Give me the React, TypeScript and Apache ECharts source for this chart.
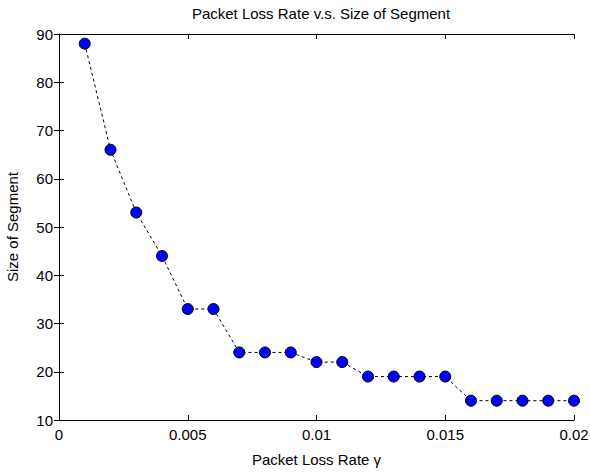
import React, { useEffect, useRef } from "react";
import * as echarts from "echarts";

const xValues = [0.001, 0.002, 0.003, 0.004, 0.005, 0.006, 0.007, 0.008, 0.009, 0.01, 0.011, 0.012, 0.013, 0.014, 0.015, 0.016, 0.017, 0.018, 0.019, 0.02];
const segmentSizes = [88, 66, 53, 44, 33, 33, 24, 24, 24, 22, 22, 19, 19, 19, 19, 14, 14, 14, 14, 14];
const xTicks = [0, 0.005, 0.01, 0.015, 0.02];
const titleText = "Packet Loss Rate v.s. Size of Segment";
const xLabel = "Packet Loss Rate γ";
const yLabel = "Size of Segment";

const FONT = "Liberation Sans, Arial, sans-serif";

export default function App() {
  const ref = useRef<HTMLDivElement>(null);
  useEffect(() => {
    if (!ref.current) return;
    const chart = echarts.init(ref.current, undefined, { renderer: "svg" });
    const axisLine = { show: true, lineStyle: { color: "#000", width: 1 } };
    const tickStyle = { show: true, inside: true, length: 5, lineStyle: { color: "#000" } };
    chart.setOption({
      animation: false,
      backgroundColor: "#fff",
      title: {
        text: titleText,
        left: 316,
        top: 1,
        textAlign: "center",
        textStyle: { fontFamily: FONT, fontSize: 15, fontWeight: "normal", color: "#000" },
      },
      grid: { left: 59, right: 16, top: 34, bottom: 52, show: false, outerBoundsMode: "none", containLabel: false },
      xAxis: [
        {
          type: "value",
          min: 0,
          max: 0.02,
          interval: 0.005,
          position: "bottom",
          axisLine,
          axisTick: tickStyle,
          splitLine: { show: false },
          axisLabel: {
            color: "#000",
            fontFamily: FONT,
            fontSize: 15,
            margin: 7,
            formatter: (v: number) => {
              const found = xTicks.find((t) => Math.abs(t - v) < 1e-9);
              return found === undefined ? "" : String(found);
            },
          },
          name: xLabel,
          nameLocation: "middle",
          nameGap: 32,
          nameTextStyle: { color: "#000", fontFamily: FONT, fontSize: 15 },
        },
        {
          type: "value",
          min: 0,
          max: 0.02,
          interval: 0.005,
          position: "top",
          axisLine,
          axisTick: tickStyle,
          axisLabel: { show: false },
          splitLine: { show: false },
        },
      ],
      yAxis: [
        {
          type: "value",
          min: 10,
          max: 90,
          interval: 10,
          position: "left",
          axisLine,
          axisTick: tickStyle,
          splitLine: { show: false },
          axisLabel: { color: "#000", fontFamily: FONT, fontSize: 15, margin: 6 },
          name: yLabel,
          nameLocation: "middle",
          nameGap: 39,
          nameTextStyle: { color: "#000", fontFamily: FONT, fontSize: 15 },
        },
        {
          type: "value",
          min: 10,
          max: 90,
          interval: 10,
          position: "right",
          axisLine,
          axisTick: tickStyle,
          axisLabel: { show: false },
          splitLine: { show: false },
        },
      ],
      series: [
        {
          type: "line",
          xAxisIndex: 0,
          yAxisIndex: 0,
          data: xValues.map((x, i) => [x, segmentSizes[i]]),
          symbol: "circle",
          symbolSize: 11,
          itemStyle: { color: "#0000ff", borderColor: "#000", borderWidth: 1 },
          lineStyle: { color: "#000", width: 1, type: [3, 3] },
          clip: false,
        },
      ],
    });
    return () => chart.dispose();
  }, []);
  return (
    <div
      ref={ref}
      style={{ position: "fixed", left: 0, top: 0, width: 590, height: 472 }}
    />
  );
}
